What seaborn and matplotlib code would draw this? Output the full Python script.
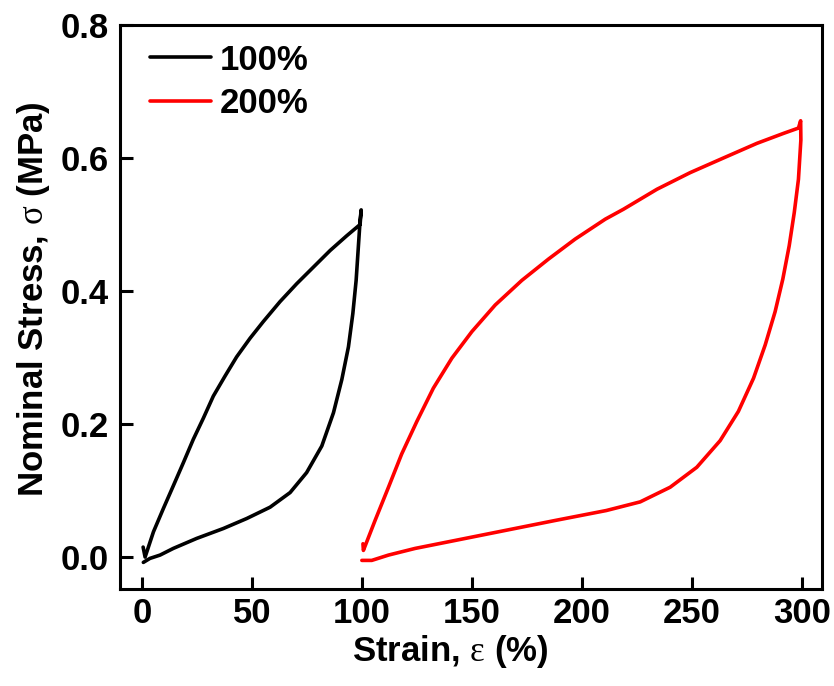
import numpy as np
import pandas as pd
import matplotlib
matplotlib.use("Agg")
import matplotlib.pyplot as plt
import seaborn as sns

# Cyclic loading-unloading curves
strain_100 = [0.5, 1.4, 5.2, 9.7, 14.2, 18.8, 23.3, 27.9, 32.4, 37.7, 43.0, 49.1, 55.1, 62.7, 70.3, 77.9,
              85.5, 93.0, 99.1, 99.6,
              99.1, 98.3, 97.3, 95.8, 93.8, 90.8, 87.0, 81.7, 74.8, 67.3, 58.2, 47.6, 37.0, 24.8, 14.2,
              8.2, 3.6, 0.6]
stress_100 = [0.015, 0.000, 0.038, 0.073, 0.107, 0.142, 0.177, 0.209, 0.242, 0.272, 0.301, 0.329, 0.354, 0.384, 0.411, 0.436,
              0.461, 0.483, 0.500, 0.522,
              0.506, 0.466, 0.416, 0.366, 0.316, 0.267, 0.217, 0.167, 0.127, 0.097, 0.075, 0.058, 0.043, 0.028, 0.013,
              0.003, -0.002, -0.008]

strain_200 = [100.4, 100.6, 105.9, 112.0, 118.0, 124.9, 132.4, 140.8, 149.9, 160.5, 172.6, 184.7, 196.8, 210.5,
              218.8, 234.0, 249.1, 264.2, 279.4, 291.5, 298.3, 299.3,
              299.4, 298.3, 296.4, 294.1, 291.2, 287.7, 283.2, 277.9, 271.0, 262.7, 252.1, 240.0, 226.4, 211.0,
              187.7, 165.0, 142.3, 124.1, 112.0, 104.4, 99.9]
stress_200 = [0.020, 0.010, 0.055, 0.105, 0.155, 0.204, 0.254, 0.299, 0.339, 0.379, 0.416, 0.448, 0.478, 0.508,
              0.523, 0.553, 0.578, 0.600, 0.622, 0.637, 0.645, 0.656,
              0.627, 0.568, 0.518, 0.468, 0.418, 0.369, 0.319, 0.269, 0.219, 0.175, 0.135, 0.105, 0.083, 0.070,
              0.055, 0.040, 0.025, 0.013, 0.003, -0.005, -0.005]

series_names = ["100%", "200%"]
colors = {"100%": "black", "200%": "red"}

df = pd.concat([
    pd.DataFrame({"strain": strain_100, "stress": stress_100, "series": series_names[0]}),
    pd.DataFrame({"strain": strain_200, "stress": stress_200, "series": series_names[1]}),
], ignore_index=True)

sns.set_theme(style="ticks")
plt.rcParams['font.family'] = ['Liberation Sans', 'DejaVu Sans']
plt.rcParams['font.weight'] = 'bold'
# greek letters in the axis labels are thin serif glyphs in the original
plt.rcParams['mathtext.fontset'] = 'custom'
plt.rcParams['mathtext.rm'] = 'Liberation Serif:normal'
plt.rcParams['mathtext.it'] = 'Liberation Serif:normal'
plt.rcParams['text.color'] = 'black'
plt.rcParams['axes.labelcolor'] = 'black'

fig = plt.figure(figsize=(8.34, 6.86), dpi=100)
ax = fig.add_axes([0.1439, 0.1414, 0.8417, 0.8222])

sns.lineplot(data=df, x="strain", y="stress", hue="series", palette=colors,
             sort=False, estimator=None, units="series", linewidth=2.6, ax=ax)

ax.set_xlim(-10, 309)
ax.set_ylim(-0.048, 0.8)
ax.set_xticks([0, 50, 100, 150, 200, 250, 300])
ax.set_yticks([0.0, 0.2, 0.4, 0.6, 0.8])
ax.yaxis.set_major_formatter(matplotlib.ticker.FormatStrFormatter('%.1f'))

for side in ax.spines.values():
    side.set_linewidth(2.2)
    side.set_color("black")
ax.tick_params(direction="in", length=9, width=2.2, labelsize=25, colors="black")
ax.tick_params(axis="x", pad=6)
ax.tick_params(axis="y", pad=8)
for lab in ax.get_xticklabels() + ax.get_yticklabels():
    lab.set_fontweight("bold")

ax.set_xlabel(r"Strain, $\mathrm{\varepsilon}$ (%)", fontsize=25, fontweight="bold")
ax.set_ylabel(r"Nominal Stress, $\mathrm{\sigma}$ (MPa)", fontsize=25, fontweight="bold")
ax.xaxis.set_label_coords(0.47, -0.078, transform=ax.transAxes)
ax.xaxis.label.set_verticalalignment("top")
ax.yaxis.set_label_coords(-0.097, 0.514, transform=ax.transAxes)

leg = ax.legend(loc="upper left", bbox_to_anchor=(0.043, 0.967), frameon=False, fontsize=25,
                handlelength=1.75, handletextpad=0.25, borderaxespad=0, borderpad=0, labelspacing=0.3)
for t in leg.get_texts():
    t.set_fontweight("bold")
for h in leg.get_lines():
    h.set_linewidth(2.6)

fig.savefig("out.png", dpi=100)
